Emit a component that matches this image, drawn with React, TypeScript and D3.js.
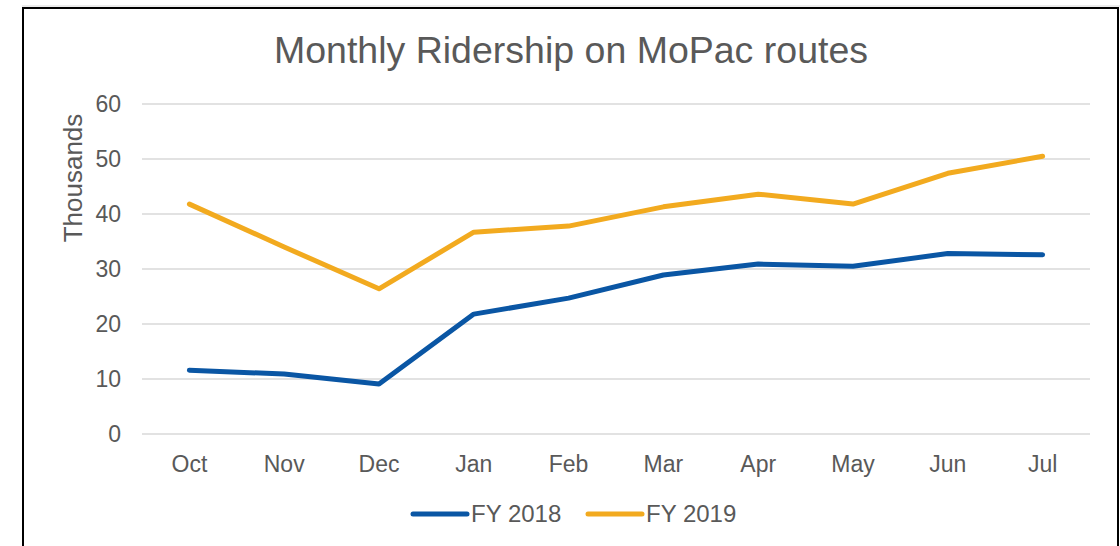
import React from "react";
import * as d3 from "d3";

const months = ["Oct", "Nov", "Dec", "Jan", "Feb", "Mar", "Apr", "May", "Jun", "Jul"];
const fy2018 = [11.6, 10.9, 9.1, 21.8, 24.7, 28.9, 30.9, 30.5, 32.8, 32.6];
const fy2019 = [41.8, 34.0, 26.4, 36.7, 37.8, 41.3, 43.6, 41.8, 47.4, 50.5];
const yTicks = [0, 10, 20, 30, 40, 50, 60];
const seriesNames = ["FY 2018", "FY 2019"];
const seriesColors = ["#0A56A4", "#F2AA1F"];

const W = 1120;
const H = 546;
const plot = { left: 142, right: 1090, top: 104, bottom: 434 };
const font = "'Liberation Sans', Arial, sans-serif";
const textColor = "#595959";

export default function App() {
  const x = d3
    .scaleBand<string>()
    .domain(months)
    .range([plot.left, plot.right]);
  const y = d3.scaleLinear().domain([0, 60]).range([plot.bottom, plot.top]);
  const line = d3
    .line<number>()
    .x((_, i) => (x(months[i]) as number) + x.bandwidth() / 2)
    .y((d) => y(d));
  const series = [fy2018, fy2019];

  return (
    <svg
      width={W}
      height={H}
      style={{ position: "absolute", left: 0, top: 0, display: "block", background: "#fff" }}
      fontFamily={font}
    >
      <rect x={0} y={0} width={W} height={H} fill="#fff" />
      <line x1={22} x2={1120} y1={6} y2={6} stroke="#d9d9d9" strokeWidth={1} />
      <rect x={23} y={8} width={1095} height={560} fill="#fff" stroke="#000" strokeWidth={2} />

      <text x={571} y={63} textAnchor="middle" fontSize={37.5} fill={textColor}>
        Monthly Ridership on MoPac routes
      </text>

      {yTicks.map((t) => (
        <g key={t}>
          <line x1={plot.left} x2={plot.right} y1={y(t)} y2={y(t)} stroke="#d9d9d9" strokeWidth={1.5} />
          <text x={121} y={y(t)} dy="0.35em" textAnchor="end" fontSize={23} fill={textColor}>
            {t}
          </text>
        </g>
      ))}

      <text
        transform={`translate(82, 178) rotate(-90)`}
        textAnchor="middle"
        fontSize={26}
        fill={textColor}
      >
        Thousands
      </text>

      {months.map((m) => (
        <text
          key={m}
          x={(x(m) as number) + x.bandwidth() / 2}
          y={472}
          textAnchor="middle"
          fontSize={23}
          fill={textColor}
        >
          {m}
        </text>
      ))}

      {series.map((s, i) => (
        <path
          key={i}
          d={line(s) || ""}
          fill="none"
          stroke={seriesColors[i]}
          strokeWidth={5}
          strokeLinejoin="round"
          strokeLinecap="round"
        />
      ))}

      {seriesNames.map((n, i) => {
        const lx = [413, 588][i];
        return (
          <g key={n}>
            <line x1={lx} x2={lx + 54} y1={514} y2={514} stroke={seriesColors[i]} strokeWidth={5} strokeLinecap="round" />
            <text x={lx + 58} y={514} dy="0.35em" fontSize={24} fill={textColor}>
              {n}
            </text>
          </g>
        );
      })}
    </svg>
  );
}
